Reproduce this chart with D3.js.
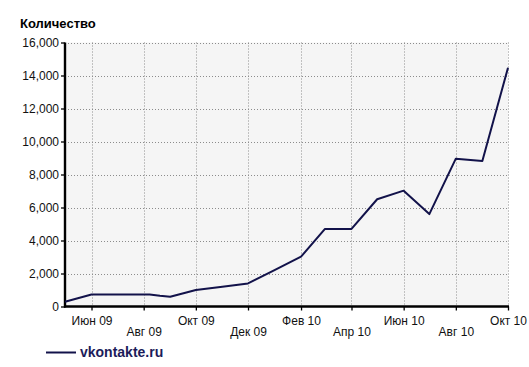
<!DOCTYPE html>
<html><head><meta charset="utf-8">
<script src="https://cdn.jsdelivr.net/npm/d3@7"></script>
<style>
body{margin:0;background:#fff;}
text{font-family:Arial,"Liberation Sans",sans-serif;}
</style></head>
<body><svg id="c" width="529" height="367"></svg>
<script>
const dates = ["2009-05-01","2009-06-01","2009-07-01","2009-08-01","2009-08-08","2009-08-20","2009-09-01","2009-10-01","2009-11-01","2009-12-01","2010-01-01","2010-02-01","2010-03-01","2010-04-01","2010-05-01","2010-06-01","2010-07-01","2010-08-01","2010-09-01","2010-10-01"];
const values = [290,730,730,730,730,650,590,1000,1200,1400,2200,3020,4700,4700,6500,7020,5600,8960,8820,14470];
const tickDates = ["2009-06-01","2009-08-01","2009-10-01","2009-12-01","2010-02-01","2010-04-01","2010-06-01","2010-08-01","2010-10-01"];
const tickLabels = ["Июн 09","Авг 09","Окт 09","Дек 09","Фев 10","Апр 10","Июн 10","Авг 10","Окт 10"];
const yTicks = [0,2000,4000,6000,8000,10000,12000,14000,16000];
const seriesName = "vkontakte.ru";
const yTitle = "Количество";

const parse = d3.utcParse("%Y-%m-%d");
const data = dates.map((d,i)=>({date:parse(d), value:values[i]}));
const svg = d3.select("#c");
const L=65, R=508, T=42.5, B=306.5;
const x = d3.scaleUtc().domain([parse("2009-05-01"), parse("2010-10-01")]).range([L,R]);
const y = d3.scaleLinear().domain([0,16000]).range([B,T]);

svg.append("rect").attr("x",L).attr("y",T).attr("width",R-L).attr("height",B-T).attr("fill","#f5f5f5");

// grid
const g = svg.append("g");
g.selectAll(".hg").data(yTicks.slice(1)).join("line")
  .attr("x1",L).attr("x2",R).attr("y1",d=>Math.round(y(d))+0.5).attr("y2",d=>Math.round(y(d))+0.5)
  .attr("stroke","#8c8c8c").attr("stroke-width",1).attr("stroke-dasharray","1,2");
g.selectAll(".vg").data(tickDates.map(parse)).join("line")
  .attr("x1",d=>Math.round(x(d))+0.5).attr("x2",d=>Math.round(x(d))+0.5).attr("y1",T).attr("y2",B)
  .attr("stroke","#8c8c8c").attr("stroke-width",1).attr("stroke-dasharray","1,2");

// y axis
const ya = svg.append("g").attr("transform",`translate(${L},0)`)
  .call(d3.axisLeft(y).tickValues(yTicks).tickFormat(d3.format(",")).tickSize(4).tickPadding(2));
ya.select(".domain").remove();
ya.selectAll("line").attr("stroke","#000").attr("stroke-width",1.3);
ya.selectAll("text").attr("font-size",12).attr("fill","#111").attr("font-family","Arial,'Liberation Sans',sans-serif");

// x axis
const xa = svg.append("g").attr("transform",`translate(0,${B})`)
  .call(d3.axisBottom(x).tickValues(tickDates.map(parse)).tickFormat((d,i)=>tickLabels[i]).tickSize(4).tickPadding(6));
xa.select(".domain").remove();
xa.selectAll("line").attr("stroke","#000").attr("stroke-width",1.3);
xa.selectAll("text").attr("font-size",12).attr("fill","#111").attr("font-family","Arial,'Liberation Sans',sans-serif")
  .attr("dy",(d,i)=> i%2===0 ? "0.71em" : "1.6em");

// axis lines
svg.append("line").attr("x1",L).attr("x2",L).attr("y1",T).attr("y2",B+1).attr("stroke","#000").attr("stroke-width",2.4);
svg.append("line").attr("x1",L-1).attr("x2",R+1).attr("y1",B).attr("y2",B).attr("stroke","#000").attr("stroke-width",2.4);

// series
const line = d3.line().x(d=>x(d.date)).y(d=>y(d.value));
svg.append("path").datum(data).attr("d",line).attr("fill","none").attr("stroke","#12124a").attr("stroke-width",2).attr("stroke-linejoin","round");

// title
svg.append("text").attr("x",20).attr("y",28).attr("font-size",13).attr("font-weight","bold").attr("fill","#000").text(yTitle);

// legend
svg.append("line").attr("x1",46).attr("x2",76).attr("y1",352.5).attr("y2",352.5).attr("stroke","#12124a").attr("stroke-width",2);
svg.append("text").attr("x",80).attr("y",357).attr("font-size",14).attr("font-weight","bold").attr("fill","#1c1c5a").text(seriesName);
</script></body></html>
